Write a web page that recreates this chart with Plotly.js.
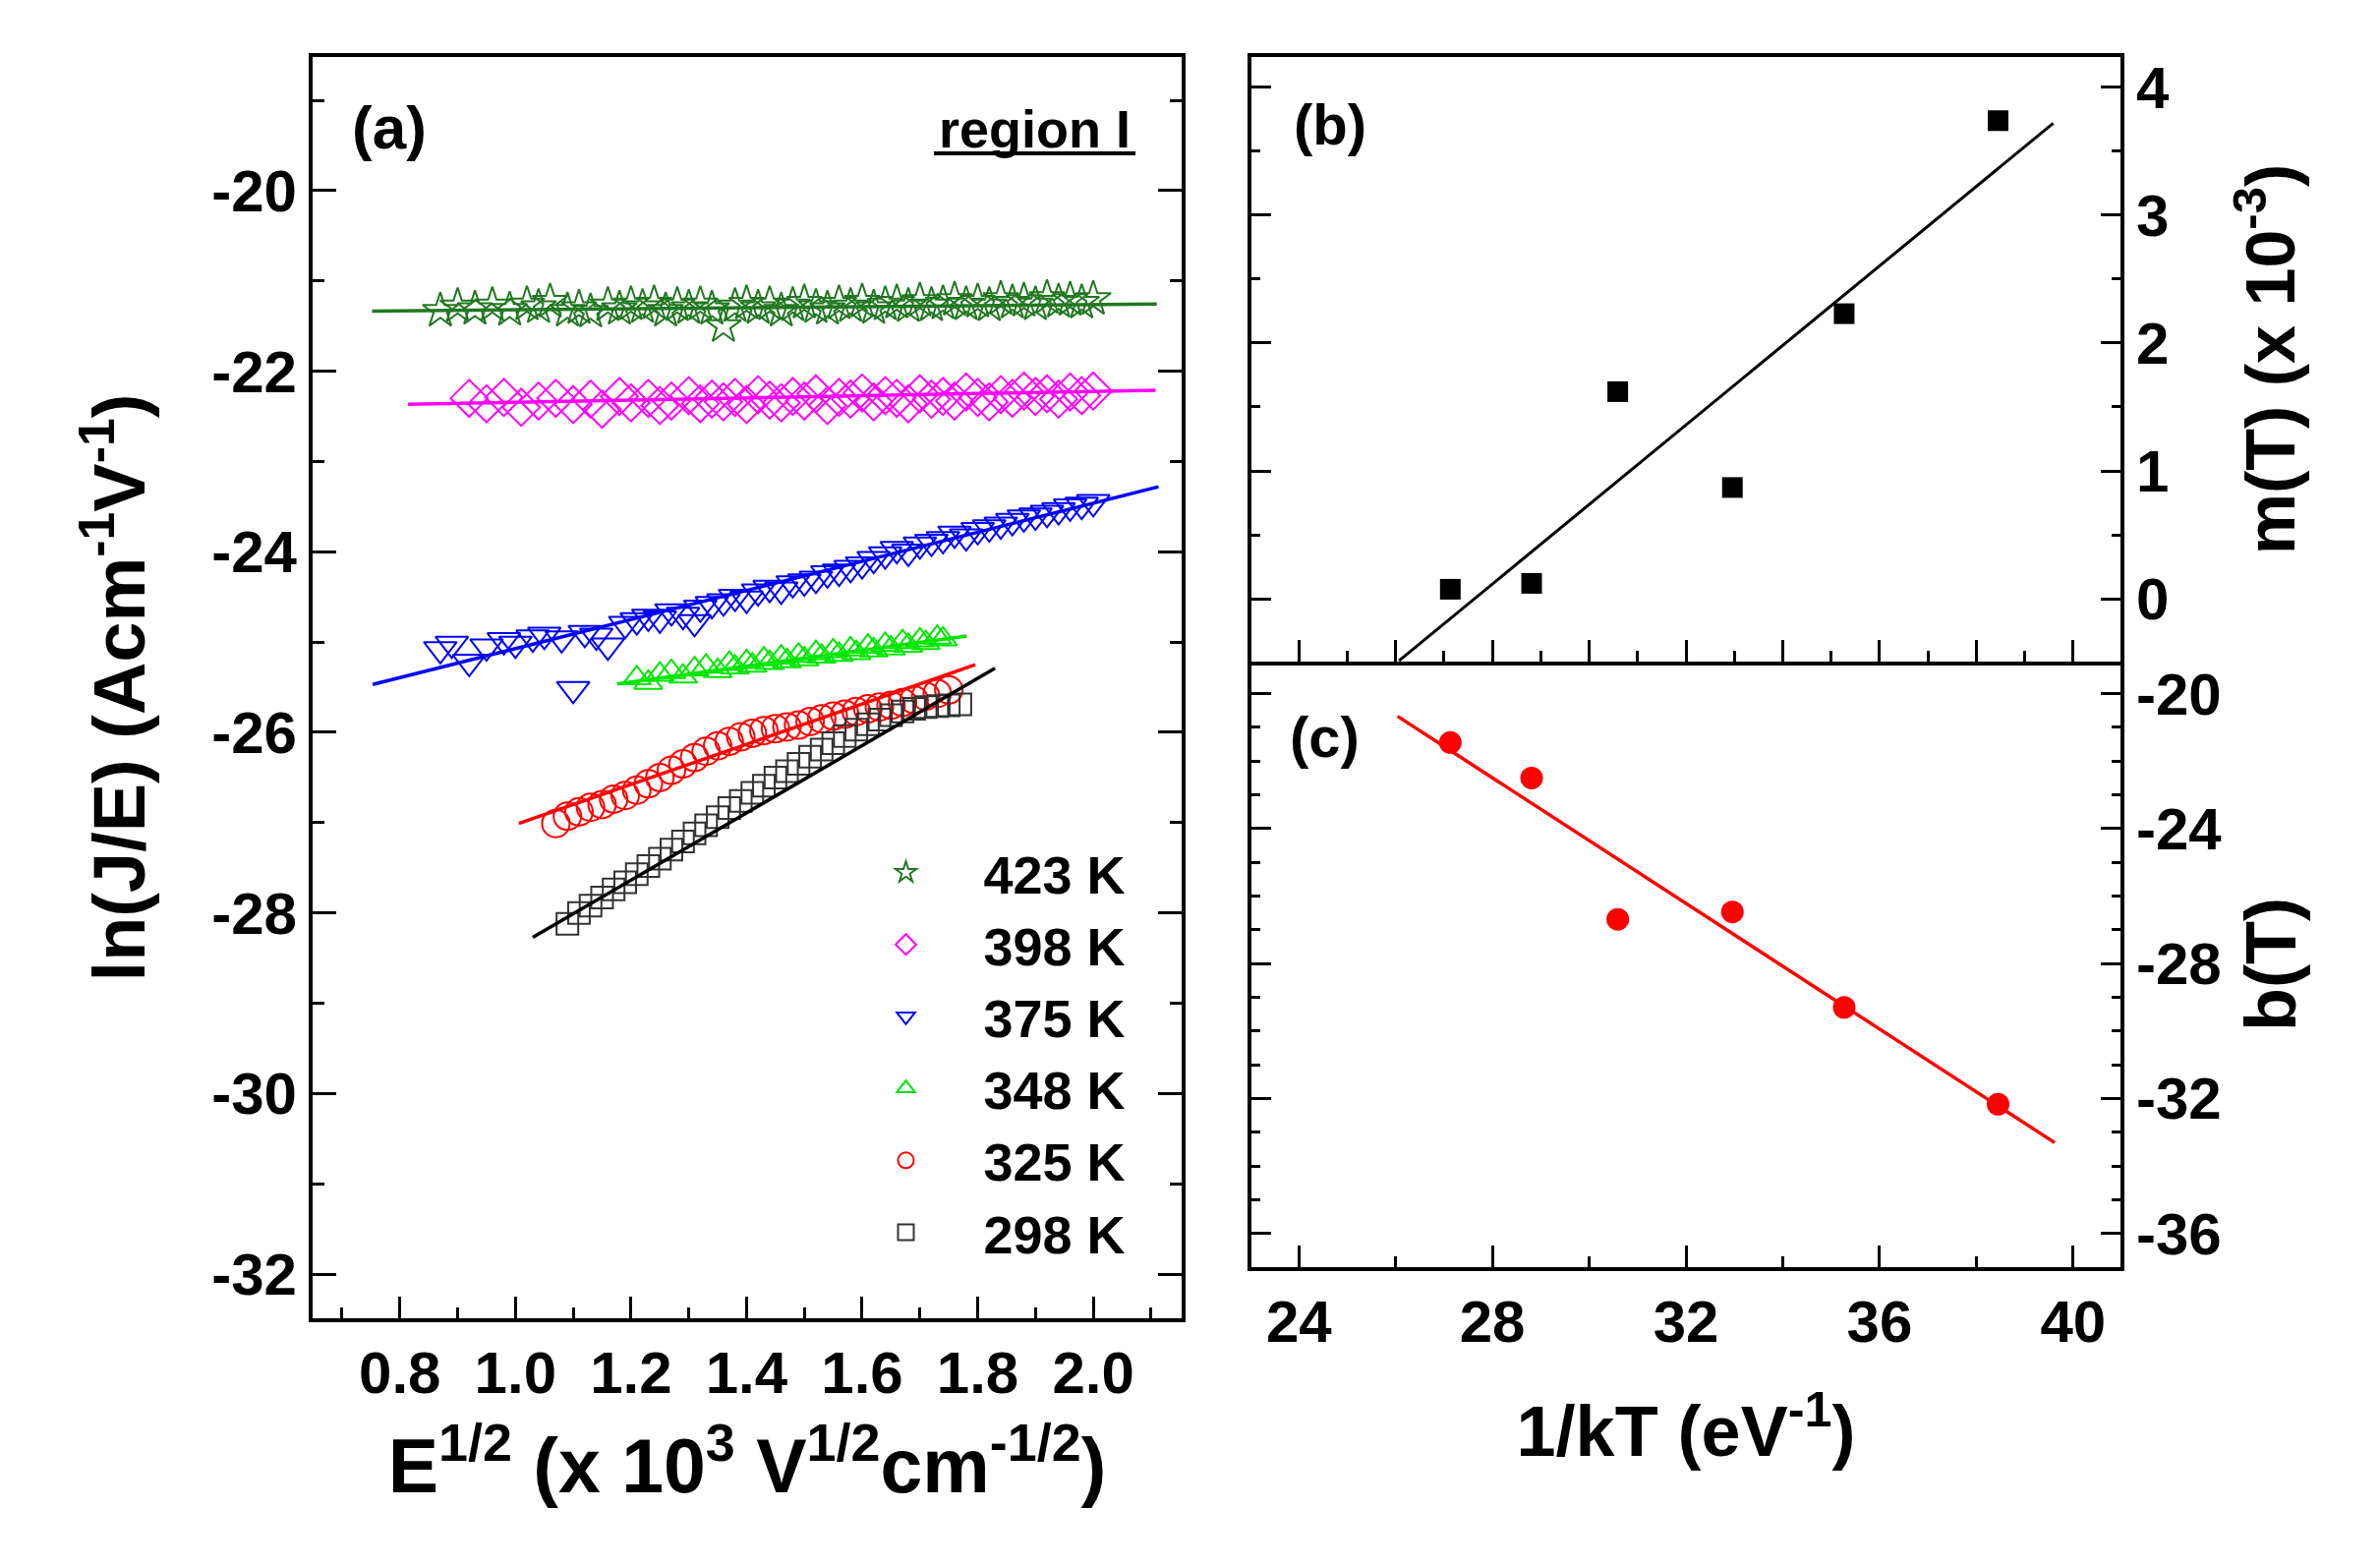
<!DOCTYPE html>
<html><head><meta charset="utf-8">
<script src="https://cdn.plot.ly/plotly-3.0.1.min.js"></script>
<style>html,body{margin:0;padding:0;background:#fff;} #chart{width:2421px;height:1593px;}</style>
</head><body><div id="chart"></div>
<script>
// ---------- Panel (a): ln(J/E) vs E^1/2 ----------
const seriesNames = ['423 K', '398 K', '375 K', '348 K', '325 K', '298 K'];

const x423 = [0.87,0.90,0.93,0.96,0.99,1.02,1.04,1.06,1.09,1.11,1.13,1.16,1.18,1.20,1.22,1.24,1.26,1.28,1.30,1.32,1.34,1.36,1.38,1.40,1.42,1.44,1.46,1.48,1.50,1.52,1.54,1.56,1.58,1.60,1.62,1.64,1.66,1.68,1.70,1.72,1.74,1.76,1.78,1.80,1.82,1.84,1.86,1.88,1.90,1.92,1.94,1.96,1.98,2.00];
const y423 = [-21.33,-21.28,-21.31,-21.27,-21.32,-21.26,-21.29,-21.23,-21.33,-21.30,-21.34,-21.27,-21.31,-21.26,-21.29,-21.25,-21.33,-21.27,-21.30,-21.26,-21.31,-21.50,-21.28,-21.25,-21.30,-21.26,-21.33,-21.27,-21.24,-21.29,-21.31,-21.25,-21.28,-21.23,-21.30,-21.26,-21.24,-21.28,-21.22,-21.27,-21.25,-21.21,-21.26,-21.23,-21.27,-21.20,-21.24,-21.22,-21.26,-21.19,-21.23,-21.21,-21.24,-21.20];

const x398 = [0.92,0.95,0.98,1.01,1.04,1.07,1.10,1.13,1.15,1.18,1.20,1.23,1.25,1.27,1.30,1.32,1.34,1.36,1.38,1.40,1.42,1.44,1.46,1.48,1.50,1.52,1.54,1.56,1.58,1.60,1.62,1.64,1.66,1.68,1.70,1.72,1.74,1.76,1.78,1.80,1.82,1.84,1.86,1.88,1.90,1.92,1.94,1.96,1.98,2.00];
const y398 = [-22.30,-22.36,-22.29,-22.40,-22.33,-22.30,-22.37,-22.31,-22.42,-22.28,-22.35,-22.30,-22.38,-22.33,-22.27,-22.36,-22.31,-22.34,-22.29,-22.37,-22.26,-22.32,-22.35,-22.28,-22.33,-22.25,-22.38,-22.29,-22.31,-22.24,-22.34,-22.27,-22.30,-22.36,-22.25,-22.31,-22.28,-22.33,-22.23,-22.29,-22.34,-22.26,-22.30,-22.22,-22.28,-22.25,-22.31,-22.23,-22.27,-22.22];

const x375 = [0.87,0.89,0.92,0.95,0.98,1.00,1.03,1.05,1.08,1.10,1.12,1.14,1.16,1.19,1.21,1.23,1.25,1.27,1.29,1.31,1.32,1.34,1.36,1.38,1.40,1.42,1.44,1.46,1.48,1.50,1.52,1.54,1.56,1.58,1.60,1.62,1.64,1.66,1.68,1.70,1.72,1.74,1.76,1.78,1.80,1.82,1.84,1.86,1.88,1.90,1.92,1.94,1.96,1.98,2.00];
const y375 = [-25.08,-25.02,-25.22,-25.05,-24.98,-25.02,-24.95,-24.92,-24.96,-25.52,-24.90,-24.93,-25.04,-24.80,-24.76,-24.72,-24.74,-24.66,-24.70,-24.78,-24.62,-24.58,-24.55,-24.50,-24.52,-24.44,-24.40,-24.42,-24.35,-24.33,-24.30,-24.24,-24.22,-24.18,-24.14,-24.08,-24.03,-23.97,-24.00,-23.92,-23.89,-23.86,-23.80,-23.83,-23.76,-23.73,-23.70,-23.66,-23.62,-23.60,-23.57,-23.54,-23.50,-23.48,-23.45];

const x348 = [1.21,1.23,1.25,1.27,1.29,1.31,1.33,1.35,1.37,1.38,1.40,1.41,1.43,1.44,1.46,1.47,1.49,1.50,1.52,1.53,1.55,1.56,1.58,1.59,1.61,1.62,1.64,1.65,1.67,1.68,1.70,1.71,1.73,1.74];
const y348 = [-25.40,-25.45,-25.36,-25.33,-25.38,-25.30,-25.27,-25.32,-25.24,-25.28,-25.22,-25.26,-25.19,-25.23,-25.17,-25.21,-25.15,-25.19,-25.12,-25.16,-25.10,-25.14,-25.08,-25.12,-25.05,-25.09,-25.03,-25.07,-25.00,-25.04,-24.98,-25.01,-24.95,-24.97];

const x325 = [1.07,1.09,1.11,1.13,1.15,1.17,1.19,1.21,1.23,1.25,1.27,1.29,1.31,1.33,1.35,1.37,1.39,1.41,1.43,1.45,1.47,1.49,1.51,1.53,1.55,1.57,1.59,1.61,1.63,1.65,1.67,1.69,1.71,1.73,1.75];
const y325 = [-27.01,-26.93,-26.88,-26.83,-26.80,-26.74,-26.70,-26.64,-26.57,-26.50,-26.42,-26.35,-26.28,-26.21,-26.15,-26.10,-26.05,-26.01,-25.98,-25.96,-25.94,-25.92,-25.88,-25.85,-25.82,-25.80,-25.77,-25.74,-25.72,-25.70,-25.67,-25.64,-25.60,-25.57,-25.53];

const x298 = [1.09,1.11,1.13,1.15,1.17,1.19,1.21,1.23,1.25,1.27,1.29,1.31,1.33,1.35,1.37,1.39,1.41,1.43,1.45,1.47,1.49,1.51,1.53,1.55,1.57,1.59,1.61,1.63,1.65,1.67,1.69,1.71,1.73,1.75,1.77];
const y298 = [-28.12,-28.00,-27.92,-27.83,-27.74,-27.66,-27.57,-27.48,-27.40,-27.30,-27.21,-27.12,-27.03,-26.94,-26.84,-26.76,-26.67,-26.59,-26.50,-26.43,-26.35,-26.27,-26.19,-26.12,-26.04,-25.97,-25.91,-25.86,-25.81,-25.77,-25.74,-25.72,-25.71,-25.70,-25.69];

// linear fits (end points)
const fitX423 = [0.752, 2.11],  fitY423 = [-21.335, -21.255];
const fitX398 = [0.814, 2.108], fitY398 = [-22.366, -22.21];
const fitX375 = [0.753, 2.113], fitY375 = [-25.47, -23.28];
const fitX348 = [1.176, 1.781], fitY348 = [-25.465, -24.933];
const fitX325 = [1.006, 1.796], fitY325 = [-27.01, -25.25];
const fitX298 = [1.03, 1.83],   fitY298 = [-28.27, -25.29];

// ---------- Panels (b) and (c) ----------
const invkT = [27.13, 28.81, 30.59, 32.96, 35.27, 38.45];
const mT    = [0.074, 0.12, 1.62, 0.87, 2.23, 3.74];
const bT    = [-21.45, -22.50, -26.69, -26.47, -29.30, -32.17];
const fitXm = [26.07, 39.59], fitYm = [-0.485, 3.72];
const fitXb = [26.04, 39.62], fitYb = [-20.67, -33.31];

// ---------- tick labels ----------
const yTickValsA = [-20, -22, -24, -26, -28, -30, -32];
const yTickTextA = ['-20', '-22', '-24', '-26', '-28', '-30', '-32'];
const yTickValsC = [-20, -24, -28, -32, -36];
const yTickTextC = ['-20', '-24', '-28', '-32', '-36'];

// ---------- styles ----------
const FONT = 'Liberation Sans, Arial, Helvetica, sans-serif';
const colors = ['#217821', '#ff00ff', '#0000ff', '#00e600', '#ff0000', '#333333'];
const fitColors = ['#217821', '#ff00ff', '#0000ff', '#00e600', '#ff0000', '#000000'];
const symbols = ['star-open', 'diamond-open', 'triangle-down-open', 'triangle-up-open', 'circle-open', 'square-open'];
const sizes = [27, 29, 29, 25, 28, 22];

const xs = [x423, x398, x375, x348, x325, x298];
const ys = [y423, y398, y375, y348, y325, y298];
const fxs = [fitX423, fitX398, fitX375, fitX348, fitX325, fitX298];
const fys = [fitY423, fitY398, fitY375, fitY348, fitY325, fitY298];

const traces = [];
for (let i = 0; i < 6; i++) {
  traces.push({
    type: 'scatter', mode: 'markers', x: xs[i], y: ys[i], name: seriesNames[i],
    xaxis: 'x', yaxis: 'y',
    marker: {symbol: symbols[i], size: sizes[i], color: colors[i], line: {color: colors[i], width: 2}}
  });
}
for (let i = 0; i < 6; i++) {
  traces.push({
    type: 'scatter', mode: 'lines', x: fxs[i], y: fys[i], showlegend: false,
    xaxis: 'x', yaxis: 'y', line: {color: fitColors[i], width: 3.5}
  });
}
traces.push({type:'scatter', mode:'markers', x: invkT, y: mT, showlegend:false, xaxis:'x2', yaxis:'y2',
  marker:{symbol:'square', size:21, color:'#000'}});
traces.push({type:'scatter', mode:'lines', x: fitXm, y: fitYm, showlegend:false, xaxis:'x2', yaxis:'y2',
  line:{color:'#000', width:3}});
traces.push({type:'scatter', mode:'markers', x: invkT, y: bT, showlegend:false, xaxis:'x3', yaxis:'y3',
  marker:{symbol:'circle', size:23, color:'#ff0000'}});
traces.push({type:'scatter', mode:'lines', x: fitXb, y: fitYb, showlegend:false, xaxis:'x3', yaxis:'y3',
  line:{color:'#ff0000', width:3.5}});

const tickFont = {family: FONT, size: 60, color: '#000', weight: 'bold'};
function ax(extra) {
  return Object.assign({
    showline: true, linecolor: '#000', linewidth: 4, ticks: 'inside', tickcolor: '#000', tickwidth: 3,
    showgrid: false, zeroline: false, tickfont: tickFont, fixedrange: true
  }, extra);
}
const minor = (t0, d, len) => ({tickmode: 'linear', tick0: t0, dtick: d, ticks: 'inside', ticklen: len,
  tickwidth: 3, tickcolor: '#000', showgrid: false});

const layout = {
  width: 2421, height: 1593,
  margin: {l: 0, r: 0, t: 0, b: 0},
  paper_bgcolor: '#fff', plot_bgcolor: '#fff',
  font: {family: FONT, color: '#000', weight: 'bold'},
  showlegend: true,
  xaxis: ax({domain: [0.13135, 0.49649], anchor: 'y', range: [0.649, 2.153], mirror: true,
    tickmode: 'linear', tick0: 0.8, dtick: 0.2, tickformat: '.1f', ticklen: 22, minor: minor(0.8, 0.1, 11),
    title: {text: 'E<sup>1/2</sup> (x 10<sup>3</sup> V<sup>1/2</sup>cm<sup>-1/2</sup>)',
      font: {family: FONT, size: 77, color: '#000', weight: 'bold'}, standoff: 36}}),
  yaxis: ax({domain: [0.15819, 0.96359], anchor: 'x', range: [-32.49, -18.52], mirror: 'ticks',
    tickmode: 'array', tickvals: yTickValsA, ticktext: yTickTextA, ticklen: 24, minor: minor(-20, 1, 12),
    title: {text: 'ln(J/E) (Acm<sup>-1</sup>V<sup>-1</sup>)',
      font: {family: FONT, size: 74, color: '#000', weight: 'bold'}, standoff: 44}}),
  xaxis2: ax({domain: [0.52582, 0.89096], anchor: 'y2', range: [23.02, 40.98], mirror: true,
    tickmode: 'linear', tick0: 24, dtick: 2, ticklen: 22, minor: minor(24, 1, 11), showticklabels: false}),
  yaxis2: ax({domain: [0.57753, 0.96359], anchor: 'x2', side: 'right', range: [-0.492, 4.238], mirror: 'ticks',
    tickmode: 'linear', tick0: 0, dtick: 1, ticklen: 20, minor: minor(0, 0.5, 9),
    title: {text: 'm(T) (x 10<sup>-3</sup>)', font: {family: FONT, size: 70, color: '#000', weight: 'bold'}, standoff: 80}}),
  xaxis3: ax({domain: [0.52582, 0.89096], anchor: 'y3', range: [23.02, 40.98], mirror: false,
    tickmode: 'linear', tick0: 24, dtick: 4, ticklen: 22, minor: minor(24, 2, 11),
    title: {text: '1/kT (eV<sup>-1</sup>)', font: {family: FONT, size: 72, color: '#000', weight: 'bold'}, standoff: 55}}),
  yaxis3: ax({domain: [0.19083, 0.57753], anchor: 'x3', side: 'right', range: [-37.0, -19.05], mirror: 'ticks',
    tickmode: 'array', tickvals: yTickValsC, ticktext: yTickTextC, ticklen: 20, minor: minor(-20, 1, 9),
    title: {text: 'b(T)', font: {family: FONT, size: 72, color: '#000', weight: 'bold'}, standoff: 26}}),
  legend: {x: 0.348, xanchor: 'left', y: 0.469, yanchor: 'top', bgcolor: 'rgba(0,0,0,0)', borderwidth: 0,
    font: {family: FONT, size: 54, color: '#000', weight: 'bold'}, itemwidth: 148, tracegroupgap: 0},
  annotations: [
    {text: '(a)', xref: 'paper', yref: 'paper', x: 0.1635, y: 0.919, xanchor: 'center', yanchor: 'middle', showarrow: false,
      font: {family: FONT, size: 62, color: '#000', weight: 'bold'}},
    {text: 'region I', xref: 'paper', yref: 'paper', x: 0.4347, y: 0.9178, xanchor: 'center', yanchor: 'middle', showarrow: false,
      font: {family: FONT, size: 54, color: '#000', weight: 'bold'}},
    {text: '(b)', xref: 'paper', yref: 'paper', x: 0.5587, y: 0.9209, xanchor: 'center', yanchor: 'middle', showarrow: false,
      font: {family: FONT, size: 58, color: '#000', weight: 'bold'}},
    {text: '(c)', xref: 'paper', yref: 'paper', x: 0.5566, y: 0.5292, xanchor: 'center', yanchor: 'middle', showarrow: false,
      font: {family: FONT, size: 58, color: '#000', weight: 'bold'}}
  ],
  shapes: [
    {type: 'line', xref: 'paper', yref: 'paper', x0: 0.3924, x1: 0.4771, y0: 0.9021, y1: 0.9021,
      line: {color: '#000', width: 4}}
  ]
};

Plotly.newPlot('chart', traces, layout, {displayModeBar: false, staticPlot: true});
</script>
</body></html>
